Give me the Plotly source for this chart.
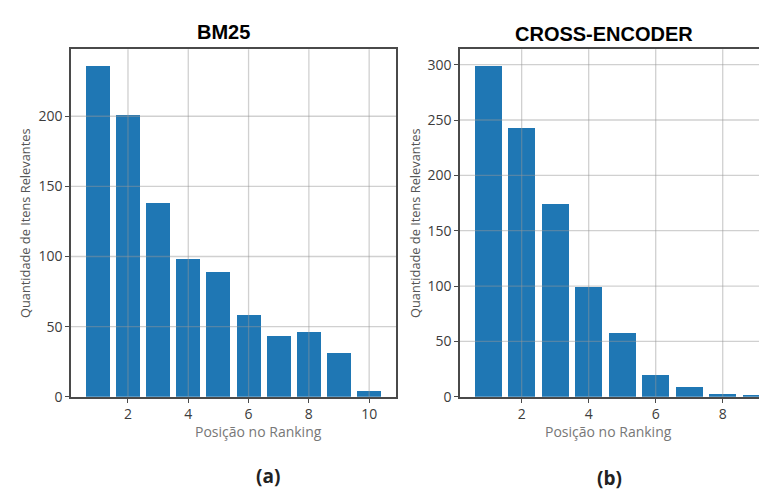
import plotly.graph_objects as go

# ---- data ----
bm25_pos = [1, 2, 3, 4, 5, 6, 7, 8, 9, 10]
bm25_vals = [236, 201, 138, 98, 89, 58, 43, 46, 31, 4]
ce_pos = [1, 2, 3, 4, 5, 6, 7, 8, 9]
ce_vals = [299, 243, 174, 99, 57, 19, 9, 2, 1]

bm25_xticks = [2, 4, 6, 8, 10]
bm25_yticks = [0, 50, 100, 150, 200]
ce_xticks = [2, 4, 6, 8]
ce_yticks = [0, 50, 100, 150, 200, 250, 300]

titles = ["BM25", "CROSS-ENCODER"]
sublabels = ["(a)", "(b)"]
xlabel = "Posição no Ranking"
ylabel = "Quantidade de Itens Relevantes"

W, H = 767, 492
BAR = "#1f77b4"
SPINE = "#4a4a4a"
GRID = "rgba(150,150,150,0.45)"
TICKFONT = dict(family="Open Sans", size=14, color="#3c3c3c")

fig = go.Figure()
fig.add_trace(go.Bar(x=bm25_pos, y=bm25_vals, width=0.8, marker=dict(color=BAR, line=dict(width=0)),
                     xaxis="x", yaxis="y", showlegend=False))
fig.add_trace(go.Bar(x=ce_pos, y=ce_vals, width=0.8, marker=dict(color=BAR, line=dict(width=0)),
                     xaxis="x2", yaxis="y2", showlegend=False))

ydom = [96 / H, 450 / H]
common_x = dict(showgrid=False, zeroline=False, showline=True, linecolor=SPINE, linewidth=1.5,
                ticks="outside", ticklen=4, tickcolor=SPINE, tickfont=TICKFONT, fixedrange=True)
common_y = dict(showgrid=False, zeroline=False, showline=True, linecolor=SPINE, linewidth=1.5,
                ticks="outside", ticklen=4, tickcolor=SPINE, tickfont=TICKFONT, fixedrange=True)

fig.update_layout(
    width=W, height=H, margin=dict(l=0, r=0, t=0, b=0),
    plot_bgcolor="white", paper_bgcolor="white", bargap=0,
    xaxis=dict(common_x, domain=[63 / W, 388 / W], range=[0.11, 10.89],
               tickvals=bm25_xticks, mirror=True, anchor="y"),
    yaxis=dict(common_y, domain=ydom, range=[0, max(bm25_vals) * 1.05],
               tickvals=bm25_yticks, mirror=True, anchor="x"),
    xaxis2=dict(common_x, domain=[452 / W, 1.0], range=[0.16, 9.56],
                tickvals=ce_xticks, mirror=True, anchor="y2"),
    yaxis2=dict(common_y, domain=ydom, range=[0, max(ce_vals) * 1.05],
                tickvals=ce_yticks, mirror=False, anchor="x2"),
)

shapes = []
for xr, yr, xt, yt in [("x", "y", bm25_xticks, bm25_yticks), ("x2", "y2", ce_xticks, ce_yticks)]:
    for v in xt:
        shapes.append(dict(type="line", xref=xr, yref=yr + " domain", x0=v, x1=v, y0=0, y1=1,
                           line=dict(color=GRID, width=1.3), layer="above"))
    for v in yt[1:]:
        shapes.append(dict(type="line", xref=xr + " domain", yref=yr, x0=0, x1=1, y0=v, y1=v,
                           line=dict(color=GRID, width=1.3), layer="above"))
fig.update_layout(shapes=shapes)

ann = []
# titles
for txt, cx, cy in [(titles[0], 215, 24), (titles[1], 596, 26.5)]:
    ann.append(dict(text="<b>%s</b>" % txt, x=cx / W, y=1 - cy / H, xref="paper", yref="paper",
                    showarrow=False, xanchor="center", yanchor="middle",
                    font=dict(family="Liberation Sans", size=20, color="#000000")))
# x labels
for cx in [250, 600]:
    ann.append(dict(text=xlabel, x=cx / W, y=1 - 431 / H, xref="paper", yref="paper",
                    showarrow=False, xanchor="center", yanchor="middle",
                    font=dict(family="Open Sans", size=14, color="#777777")))
# y labels
for cx in [17, 407]:
    ann.append(dict(text=ylabel, x=cx / W, y=1 - 220 / H, xref="paper", yref="paper",
                    showarrow=False, xanchor="center", yanchor="middle", textangle=-90,
                    font=dict(family="Open Sans", size=12.8, color="#555555")))
# sub labels
for txt, cx, cy in [(sublabels[0], 260, 477), (sublabels[1], 601, 479)]:
    ann.append(dict(text="<b>%s</b>" % txt, x=cx / W, y=1 - cy / H, xref="paper", yref="paper",
                    showarrow=False, xanchor="center", yanchor="middle",
                    font=dict(family="Open Sans", size=19, color="#222222")))
fig.update_layout(annotations=ann)

fig.write_html("out.html")
